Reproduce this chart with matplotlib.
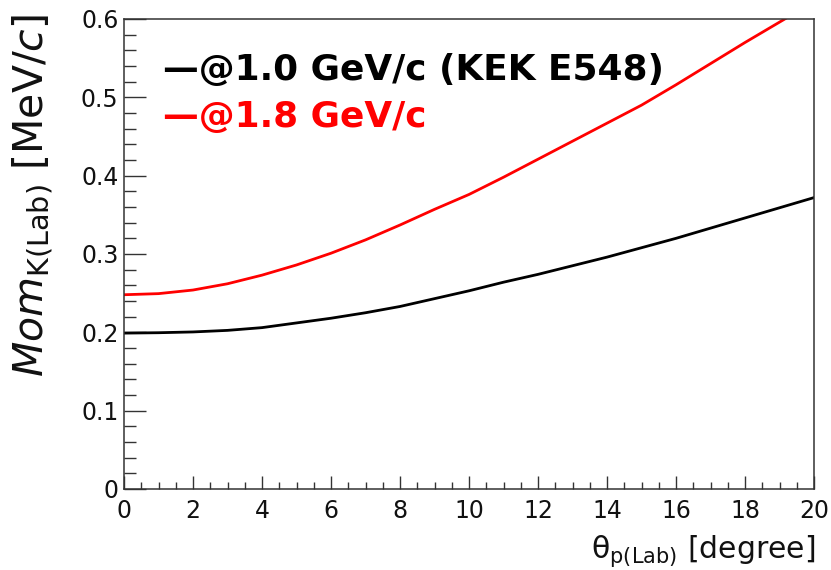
import matplotlib
matplotlib.use("Agg")
import matplotlib.pyplot as plt
from matplotlib.ticker import MultipleLocator

plt.rcParams["font.family"] = ["DejaVu Sans"]
plt.rcParams["mathtext.fontset"] = "dejavusans"

# Lab-frame kaon momentum vs. proton scattering angle
theta_deg = [0, 1, 2, 3, 4, 5, 6, 7, 8, 9, 10,
             11, 12, 13, 14, 15, 16, 17, 18, 19, 20]
mom_1p0 = [0.199, 0.1995, 0.2005, 0.2025, 0.206, 0.212, 0.218, 0.225, 0.233, 0.243, 0.253,
           0.264, 0.274, 0.285, 0.296, 0.308, 0.320, 0.333, 0.346, 0.359, 0.372]
mom_1p8 = [0.248, 0.2494, 0.254, 0.262, 0.273, 0.286, 0.301, 0.318, 0.337, 0.357, 0.376,
           0.398, 0.421, 0.444, 0.467, 0.490, 0.516, 0.543, 0.570, 0.596, 0.622]

legend_labels = ["\u2014@1.0 GeV/c (KEK E548)", "\u2014@1.8 GeV/c"]
series_colors = ["black", "red"]

W, H = 831, 570
fig = plt.figure(figsize=(W / 100, H / 100), dpi=100)
ax = fig.add_axes([124 / W, 1 - 489 / H, (814 - 124) / W, (489 - 19) / H])

ax.plot(theta_deg, mom_1p0, color=series_colors[0], lw=2.0)
ax.plot(theta_deg, mom_1p8, color=series_colors[1], lw=2.0)

ax.set_xlim(0, 20)
ax.set_ylim(0, 0.6)

ax.xaxis.set_major_locator(MultipleLocator(2))
ax.xaxis.set_minor_locator(MultipleLocator(0.5))
ax.yaxis.set_major_locator(MultipleLocator(0.1))
ax.yaxis.set_minor_locator(MultipleLocator(0.02))
ax.xaxis.set_major_formatter(lambda v, pos: f"{v:g}")
ax.yaxis.set_major_formatter(lambda v, pos: f"{v:g}")

ax.tick_params(axis="both", which="both", direction="in", top=False, right=False,
               color="#333333", width=1.0, labelsize=17, labelcolor="#111111")
ax.tick_params(axis="y", which="major", length=15.5, pad=4)
ax.tick_params(axis="y", which="minor", length=8.5)
ax.tick_params(axis="x", which="major", length=9.5, pad=7)
ax.tick_params(axis="x", which="minor", length=5)

for sp in ax.spines.values():
    sp.set_linewidth(1.1)
    sp.set_color("#333333")

# Axis titles
fig.text(815 / W, 1 / H, r"θ$_{\mathrm{p(Lab)}}$ [degree]",
         ha="right", va="bottom", fontsize=21.5, color="#111111")
fig.text(33 / W, 1 - 14 / H, r"$\mathit{Mom}_{\mathrm{K(Lab)}}$ [MeV/$\mathit{c}$]",
         rotation=90, ha="center", va="top", fontsize=29.5, color="#111111")

# Legend text block
fig.text(163 / W, 1 - 80 / H, legend_labels[0], color=series_colors[0],
         fontsize=25.8, fontweight="bold", ha="left", va="baseline")
fig.text(163 / W, 1 - 127 / H, legend_labels[1], color=series_colors[1],
         fontsize=25.8, fontweight="bold", ha="left", va="baseline")

fig.savefig("out.png", dpi=100)
